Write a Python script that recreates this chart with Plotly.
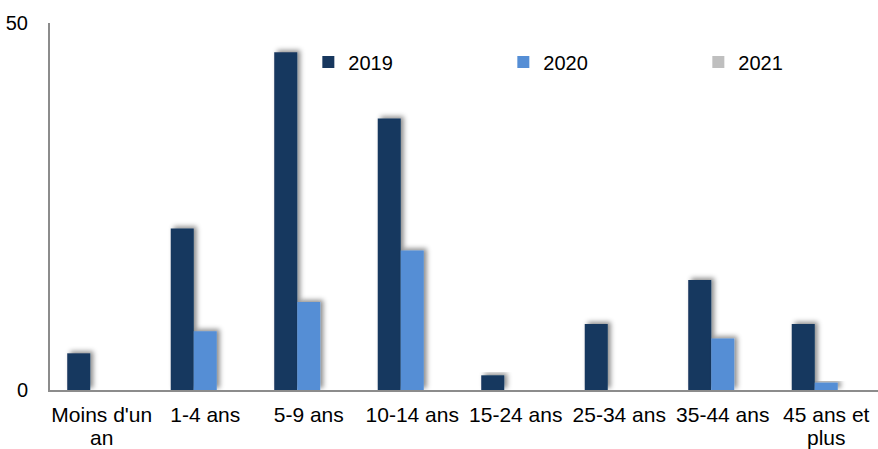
import plotly.graph_objects as go

categories = ["Moins d'un<br>an", "1-4 ans", "5-9 ans", "10-14 ans", "15-24 ans",
              "25-34 ans", "35-44 ans", "45 ans et<br>plus"]
v2019 = [5, 22, 46, 37, 2, 9, 15, 9]
v2020 = [0, 8, 12, 19, 0, 0, 7, 1]
v2021 = [0, 0, 0, 0, 0, 0, 0, 0]
y_ticks = [0, 50]

colors = {"2019": "#17375E", "2020": "#558ED5", "2021": "#BFBFBF"}
FONT = "Liberation Sans, Arial, sans-serif"

fig = go.Figure()
for name, vals in [("2019", v2019), ("2020", v2020), ("2021", v2021)]:
    fig.add_trace(go.Bar(x=categories, y=vals, name=name,
                         marker=dict(color=colors[name], line=dict(width=0))))

fig.update_layout(
    width=878, height=449,
    margin=dict(l=50, r=0, t=23, b=59, autoexpand=False),
    paper_bgcolor="white", plot_bgcolor="white",
    barmode="group", bargap=0.333, bargroupgap=0,
    font=dict(family=FONT, size=20, color="#000000"),
    showlegend=True,
    legend=dict(orientation="h", xref="paper", yref="paper",
                x=0.312, y=0.894, xanchor="left", yanchor="middle",
                entrywidth=150, entrywidthmode="pixels",
                font=dict(family=FONT, size=20, color="#000000"),
                bgcolor="rgba(0,0,0,0)", traceorder="normal"),
)
fig.update_xaxes(showline=True, linecolor="#8C8C8C", linewidth=2, ticks="",
                 showgrid=False, tickfont=dict(size=21), ticklabelstandoff=5)
fig.update_yaxes(range=[0, 50], tickvals=y_ticks, showgrid=False, zeroline=False,
                 showline=True, linecolor="#8C8C8C", linewidth=2, ticks="",
                 tickfont=dict(size=20), ticklabelstandoff=16)

post = """
var gd = document.getElementById('{plot_id}');
function addShadow(){
  var svg = gd.querySelector('svg.main-svg');
  if(!svg) return;
  var ns = 'http://www.w3.org/2000/svg';
  var defs = svg.querySelector('defs') || svg.insertBefore(document.createElementNS(ns,'defs'), svg.firstChild);
  if(!document.getElementById('barshadow')){
    var f = document.createElementNS(ns,'filter');
    f.setAttribute('id','barshadow');
    f.setAttribute('x','-50%'); f.setAttribute('y','-20%');
    f.setAttribute('width','200%'); f.setAttribute('height','140%');
    var d = document.createElementNS(ns,'feDropShadow');
    d.setAttribute('dx','3'); d.setAttribute('dy','-2');
    d.setAttribute('stdDeviation','2.5');
    d.setAttribute('flood-color','#000'); d.setAttribute('flood-opacity','0.45');
    f.appendChild(d); defs.appendChild(f);
  }
  gd.querySelectorAll('.barlayer .point path').forEach(function(p){
    p.setAttribute('filter','url(#barshadow)');
  });
  gd.querySelectorAll('.xtick text tspan.line').forEach(function(t){
    var dy = t.getAttribute('dy');
    if(dy && dy.indexOf('1.3em') === 0){ t.setAttribute('dy','1.1em'); }
  });
}
addShadow();
"""
fig.write_html("out.html", post_script=post)
